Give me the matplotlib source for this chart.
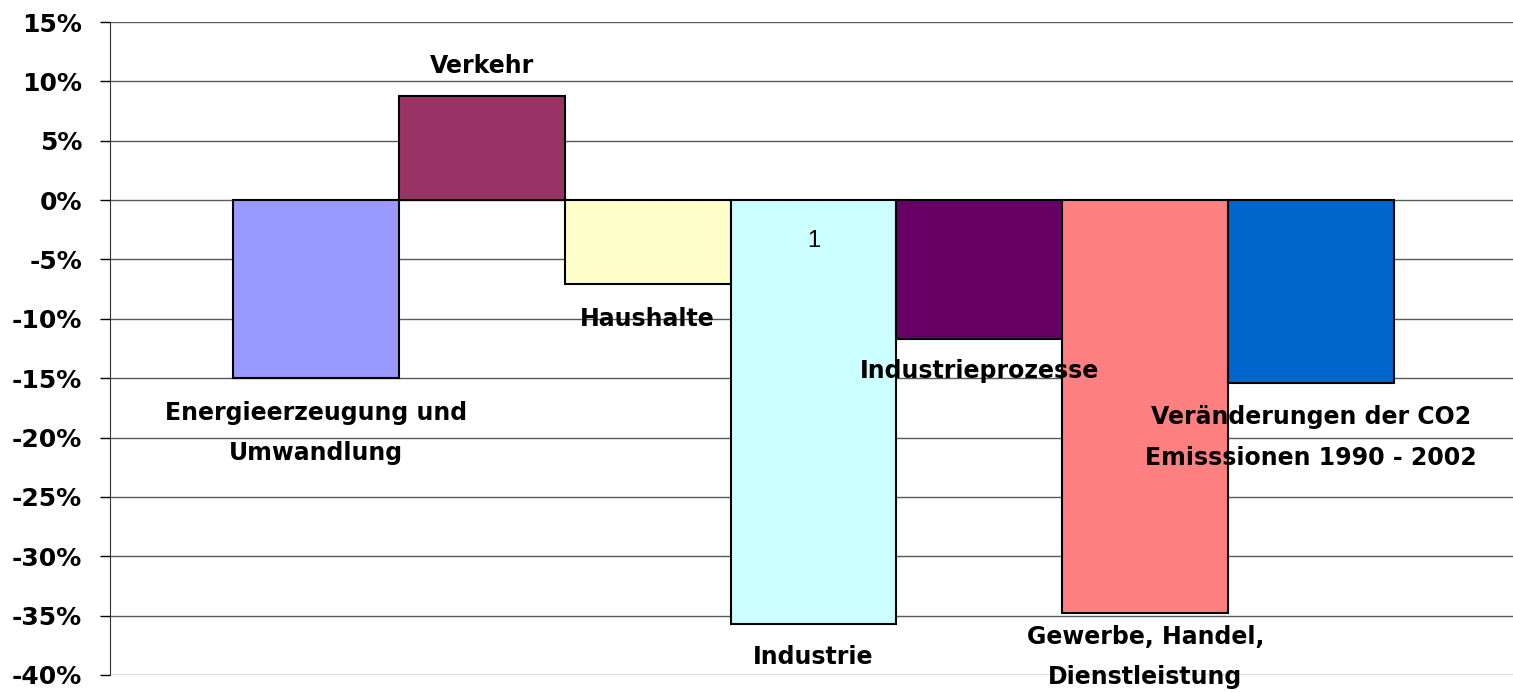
import matplotlib
matplotlib.use("Agg")
import matplotlib.pyplot as plt
from matplotlib.ticker import FuncFormatter

plt.rcParams['font.family'] = ['DejaVu Sans']

categories = ["Energieerzeugung und\nUmwandlung", "Verkehr", "Haushalte", "Industrie",
              "Industrieprozesse", "Gewerbe, Handel,\nDienstleistung",
              "Veränderungen der CO2\nEmisssionen 1990 - 2002"]
values = [-15.0, 8.8, -7.1, -35.7, -11.7, -34.8, -15.4]
colors = ["#9999FF", "#993366", "#FFFFCC", "#CCFFFF", "#660066", "#FF8080", "#0066CC"]
label_y = [-19.6, 11.3, -10.0, -38.5, -14.4, -38.5, -20.0]
yticks = list(range(15, -45, -5))

fig = plt.figure(figsize=(15.13, 6.92), dpi=100)
ax = fig.add_axes([0.0727, 0.0246, 0.9273, 0.9436])

for y in yticks:
    ax.axhline(y, color="#5a5a5a", lw=1.0, zorder=0)

x = list(range(len(values)))
ax.bar(x, values, width=1.0, color=colors, edgecolor="black", linewidth=1.5, zorder=2)

for xi, lab, ly in zip(x, categories, label_y):
    ax.text(xi, ly, lab, ha="center", va="center", fontsize=17, fontweight="bold",
            linespacing=1.85, zorder=3)

ax.text(3, -3.45, "1", ha="center", va="center", fontsize=17,
        family=["Liberation Sans", "DejaVu Sans"], zorder=3)

ax.set_xlim(-1.241, 7.217)
ax.set_ylim(-40, 15)
ax.set_yticks(yticks)
ax.yaxis.set_major_formatter(FuncFormatter(lambda v, p: f"{int(v)}%"))
ax.tick_params(axis="y", labelsize=18, length=7, width=1.0, color="black", pad=13)
for t in ax.get_yticklabels():
    t.set_fontweight("bold")
ax.set_xticks([])
for s in ["top", "right", "bottom"]:
    ax.spines[s].set_visible(False)
ax.spines["left"].set_color("#333333")

fig.savefig("out.png", dpi=100)
